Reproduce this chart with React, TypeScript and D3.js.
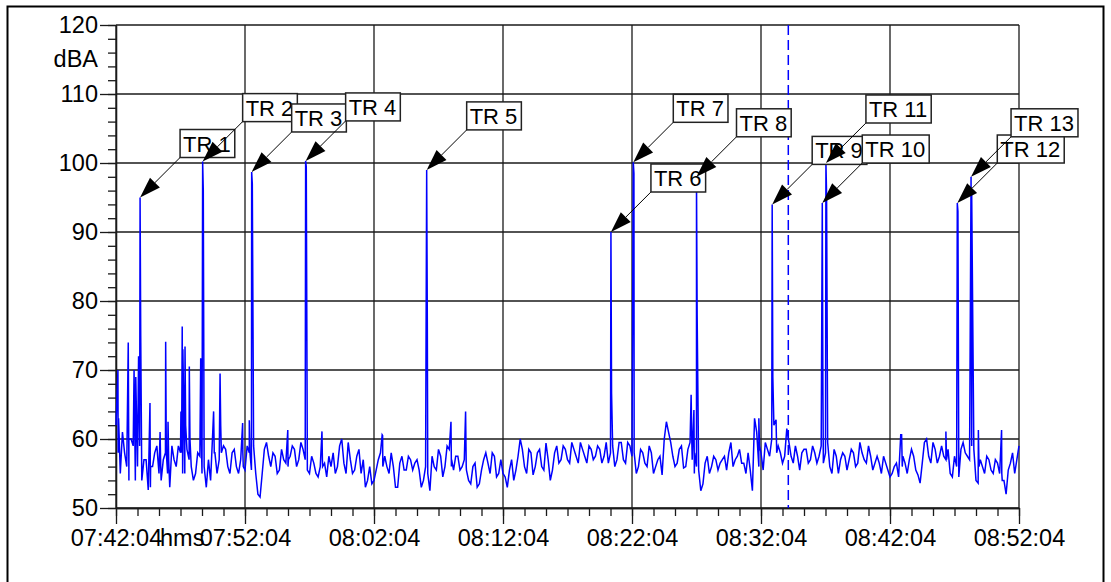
import React, { useEffect, useRef } from 'react';
import * as d3 from 'd3';

// time axis labels (10 minute steps)
const timeTicks = ['07:42:04', '07:52:04', '08:02:04', '08:12:04', '08:22:04', '08:32:04', '08:42:04', '08:52:04'];
const levelTicks = [50, 60, 70, 80, 90, 100, 110, 120];
const unitLevel = 115;

// background noise, one reading every 20 s from 07:42:04 (dBA)
const sampleStep = 20;
const noiseLevels = [
  62, 55, 58, 54, 59, 56, 54, 57, 53, 58, 55,
  57, 55, 59, 56, 58, 55, 57, 54, 58, 55,
  53, 54, 58, 57, 59, 56, 58, 56, 57, 55.5,
  58, 59, 52, 55, 59.5, 56, 57.5, 55.5, 57, 56,
  59, 56, 59.5, 57, 55, 56.5, 54.5, 57, 54.5, 56,
  55, 59, 56.5, 59.5, 55, 57.5, 55, 53, 56, 54,
  57, 60.5, 56, 58, 53, 56.5, 55.5, 57.5, 55.5, 57,
  53, 56, 52.5, 56, 58.5, 54.5, 59, 56, 57.5, 55.5,
  57, 54, 56, 53, 55.5, 58, 55, 57.5, 55, 55,
  53, 57, 55.5, 60, 56, 58.5, 54.8, 58, 56, 59.4,
  54, 58, 56.5, 59, 57, 59.5, 57.5, 59.5, 57.5, 59,
  57, 59, 56.5, 59.5, 58, 56, 59.5, 57, 59.5, 57.5,
  55, 58.5, 56.5, 59, 55, 57, 54.8, 62.5, 59.5, 56,
  58.5, 55.8, 58.5, 57, 56, 52.5, 56.5, 55, 57.5, 55.5,
  57, 55.5, 59.5, 57, 58.5, 56.5, 58, 52.5, 61, 58,
  59.5, 57.5, 62, 59, 56.5, 61.5, 57.5, 59, 55.5, 58.5,
  56.5, 59, 56.5, 59, 58, 56, 58.5, 55, 58, 55.5,
  58.5, 56, 59.5, 57, 59, 55.5, 57.5, 55, 56.5, 54.5,
  56, 54.5, 57.5, 55, 58.5, 55.5, 53.6, 59.5, 57.5, 59.5,
  56.5, 59, 57, 55, 57.5, 54.5, 59.5, 57.5, 59, 54,
  57, 55, 57, 55, 56.5, 55, 52, 56.5, 55, 59,
];
// readings taken 10 s after each of the above
const noiseMidLevels = [
  58, 61, 56, 60, 54, 59, 57, 52.6, 56, 59,
  54, 58, 53, 57, 59, 55, 58.5, 56, 55, 57.5,
  56, 57, 61, 55, 58, 58.5, 55, 58.5, 55, 58,
  59, 55.5, 55, 51.6, 58.5, 57.5, 58, 55, 58.5, 56.5,
  57.5, 58.5, 57, 58.5, 55.5, 57.5, 55, 56, 56.5, 57.5,
  58, 56, 60, 55, 57, 55.5, 58.5, 57, 54, 53.5,
  55.5, 58, 57.5, 55, 56, 53, 57.5, 55.5, 57, 56.5,
  55.5, 54, 55, 57.5, 55.5, 57.5, 56, 58.5, 55.5, 57.5,
  56, 55.5, 53.5, 56.5, 53.5, 57, 56.5, 58, 54.5, 57,
  54.5, 55.5, 54, 57.5, 58.5, 55, 58, 56, 58.5, 55.5,
  57, 55.5, 59, 57, 58.5, 56.5, 58.5, 56.5, 58.5, 56.5,
  58.5, 57.5, 58.5, 57.5, 56.5, 59, 57, 59.5, 56.5, 59,
  58, 56, 58, 56, 58, 56, 57.5, 60, 61, 57.5,
  56.5, 59, 56, 59.5, 55, 55.5, 53.5, 57.5, 56, 57,
  56.5, 57.5, 58, 56, 57.5, 56.5, 55, 55.5, 63, 56,
  55.5, 58.5, 60, 62.8, 58, 57.5, 59.5, 56.5, 57.5, 58,
  58.5, 57, 58, 57.5, 56.5, 59.5, 55, 57.5, 57, 57.5,
  57, 58, 56.5, 58, 56.5, 57.5, 56.5, 56.5, 57.5, 55.5,
  55, 56.5, 60.6, 56.5, 57, 57.5, 54.8, 56.5, 60, 56.5,
  58.5, 57.5, 57.5, 58.5, 54.5, 56, 58.5, 58, 57, 58.5,
  53.6, 56, 57.5, 55.5, 57, 55, 54, 55.5, 58, 57,
];

// short unlabelled peaks: seconds after start, peak level, level just after
const minorOffsets = [9, 57, 84, 92, 105, 158, 205, 231, 242, 302, 308, 321, 341, 394, 454, 484, 589, 620, 799, 958, 1238, 1558, 1626, 2675, 2688, 2990, 3070, 3654, 3860, 4011, 4119];
const minorPeaks = [70, 74, 70, 69, 72, 65.2, 61, 74.1, 62.5, 64, 76.3, 73.4, 70.5, 71.7, 64, 69.5, 62.3, 62.7, 61.3, 61.1, 60.6, 62.5, 64, 66.4, 64.2, 63, 62.8, 60.6, 61.1, 61.3, 61.3];
const minorShoulders = [63, 60, 62, 64, 66, 56, 56, 58, 57, 58, 73, 62, 60, 60, 58, 62, 56, 58, 57, 56, 56, 57, 56, 60, 58, 59, 58, 56, 57, 56, 54];

// labelled events
const trNames = ['TR 1', 'TR 2', 'TR 3', 'TR 4', 'TR 5', 'TR 6', 'TR 7', 'TR 8', 'TR 9', 'TR 10', 'TR 11', 'TR 12', 'TR 13'];
const trOffsets = [112, 403, 631, 882, 1445, 2302, 2406, 2700, 3052, 3285, 3302, 3913, 3977];
const trPeaks = [95, 100.2, 98.7, 100.3, 99, 90, 100.1, 98, 94, 94.2, 100, 94.2, 98];
const trShoulders = [75, 96, 97, 99.5, 77, 66.6, 98.5, 78, 69, 67, 95.5, 93, 95.4];

// cursor position (seconds after start)
const cursorOffset = 3127;

const FONT = "'Liberation Sans', Arial, sans-serif";

const App = () => {
  const svgRef = useRef<SVGSVGElement>(null);

  useEffect(() => {
    const width = 1111;
    const height = 582;
    const svg = d3.select(svgRef.current);
    svg.selectAll('*').remove();

    const margin = { top: 25, right: 92, bottom: 74, left: 116 };
    const parse = d3.timeParse('%H:%M:%S');
    const tickDates = timeTicks.map(t => parse(t) as Date);
    const start = tickDates[0];
    const at = (s: number) => new Date(start.getTime() + s * 1000);

    const x = d3.scaleTime()
      .domain([start, tickDates[tickDates.length - 1]])
      .range([margin.left, width - margin.right]);
    const y = d3.scaleLinear()
      .domain([50, 120])
      .range([height - margin.bottom, margin.top]);

    const [x0, x1] = x.range();
    const [y0, y1] = y.range();

    // outer frame
    svg.append('rect')
      .attr('x', 7.5).attr('y', 6.5)
      .attr('width', 1096).attr('height', 600)
      .attr('fill', 'none').attr('stroke', '#000').attr('stroke-width', 2);

    // grid
    const grid = svg.append('g').attr('stroke', '#1a1a1a').attr('stroke-width', 1.3);
    grid.selectAll('.gy').data(levelTicks).join('line')
      .attr('x1', x0).attr('x2', x1)
      .attr('y1', d => y(d)).attr('y2', d => y(d));
    grid.selectAll('.gx').data(tickDates).join('line')
      .attr('x1', d => x(d)).attr('x2', d => x(d))
      .attr('y1', y0).attr('y2', y1);

    // y axis
    const yAxis = svg.append('g')
      .attr('transform', `translate(${x0},0)`)
      .call(d3.axisLeft(y).tickValues(levelTicks).tickSize(16).tickSizeOuter(0).tickPadding(2));
    svg.append('g')
      .attr('transform', `translate(${x0},0)`)
      .call(d3.axisLeft(y).tickValues(d3.range(50, 121, 2)).tickSize(8).tickSizeOuter(0).tickFormat(() => ''));
    yAxis.append('text')
      .attr('x', -18).attr('y', y(unitLevel)).attr('dy', '0.32em')
      .attr('text-anchor', 'end').attr('fill', '#000')
      .text('dBA');

    // x axis
    const xAxis = svg.append('g')
      .attr('transform', `translate(0,${y0})`)
      .call(d3.axisBottom(x).tickValues(tickDates).tickSize(16).tickSizeOuter(0).tickPadding(5)
        .tickFormat(d3.timeFormat('%H:%M:%S') as any));
    svg.append('g')
      .attr('transform', `translate(0,${y0})`)
      .call(d3.axisBottom(x).tickValues(d3.range(0, 4201, 100).map(at)).tickSize(8).tickSizeOuter(0)
        .tickFormat(() => ''));
    xAxis.append('text')
      .attr('x', x(start) + 44).attr('y', 21).attr('dy', '0.71em')
      .attr('text-anchor', 'start').attr('fill', '#000')
      .text('hms');

    svg.selectAll('.tick line, .domain').attr('stroke', '#1a1a1a').attr('stroke-width', 1.3);
    svg.selectAll('g text').attr('font-family', FONT).attr('font-size', 23.5).attr('fill', '#000');

    // level trace
    type Pt = { t: number; v: number };
    const pts: Pt[] = noiseLevels.map((v, i) => ({ t: i * sampleStep, v }));
    noiseMidLevels.forEach((v, i) => pts.push({ t: i * sampleStep + sampleStep / 2, v }));
    minorOffsets.forEach((t, i) => {
      pts.push({ t, v: minorPeaks[i] });
      pts.push({ t: t + 3, v: minorShoulders[i] });
    });
    trOffsets.forEach((t, i) => {
      pts.push({ t, v: trPeaks[i] });
      pts.push({ t: t + 3, v: trShoulders[i] });
    });
    pts.sort((a, b) => a.t - b.t);

    const line = d3.line<Pt>()
      .x(d => x(at(d.t)))
      .y(d => y(d.v));

    svg.append('path')
      .datum(pts)
      .attr('fill', 'none')
      .attr('stroke', '#0000ff')
      .attr('stroke-width', 1.5)
      .attr('stroke-linejoin', 'miter')
      .attr('d', line);

    // cursor
    svg.append('line')
      .attr('x1', x(at(cursorOffset))).attr('x2', x(at(cursorOffset)))
      .attr('y1', y1).attr('y2', y0)
      .attr('stroke', '#0000ff').attr('stroke-width', 1.5)
      .attr('stroke-dasharray', '10,5');

    // annotations
    const offset = 40;
    const headLen = 21;
    const headHalf = 7;
    trNames.forEach((name, i) => {
      const px = x(at(trOffsets[i]));
      const py = y(trPeaks[i]);
      const bx = px + offset;
      const by = py - offset;
      const g = svg.append('g');

      const dx = px - bx;
      const dy = py - by;
      const len = Math.hypot(dx, dy);
      const ux = dx / len;
      const uy = dy / len;
      const cx = px - ux * headLen;
      const cy = py - uy * headLen;

      g.append('line')
        .attr('x1', bx).attr('y1', by).attr('x2', cx).attr('y2', cy)
        .attr('stroke', '#000').attr('stroke-width', 1);
      g.append('polygon')
        .attr('points', [
          [px, py],
          [cx - uy * headHalf, cy + ux * headHalf],
          [cx + uy * headHalf, cy - ux * headHalf],
        ].map(p => p.join(',')).join(' '))
        .attr('fill', '#000');

      const box = g.append('g');
      const txt = box.append('text')
        .attr('x', bx + 3).attr('y', by - 6)
        .attr('font-family', FONT).attr('font-size', 22).attr('fill', '#000')
        .text(name);
      const w = (txt.node() as SVGTextElement).getComputedTextLength();
      box.insert('rect', 'text')
        .attr('x', bx).attr('y', by - 28)
        .attr('width', w + 7).attr('height', 28)
        .attr('fill', '#fff').attr('stroke', '#222').attr('stroke-width', 1.5);
    });
  }, []);

  return (
    <div style={{ position: 'absolute', left: 0, top: 0 }}>
      <svg ref={svgRef} width={1111} height={582} style={{ display: 'block', background: '#fff' }}></svg>
    </div>
  );
};

export default App;
